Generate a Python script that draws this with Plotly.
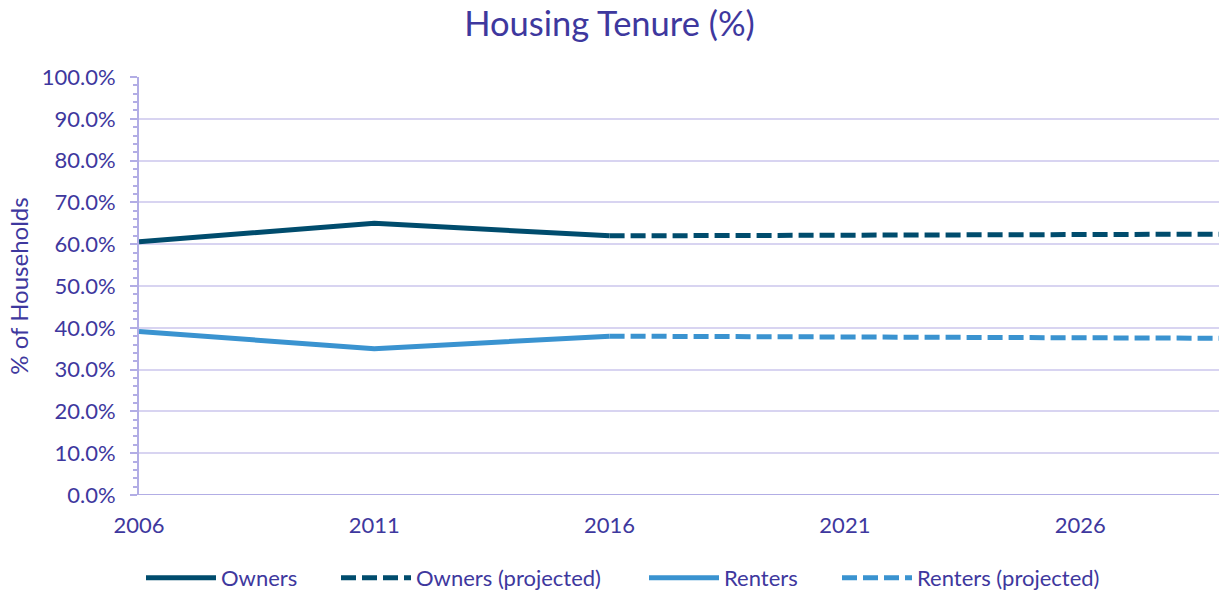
import plotly.graph_objects as go

years_actual = [2006, 2011, 2016]
owners_actual = [60.6, 65.0, 62.0]
renters_actual = [39.1, 35.0, 38.0]

years_proj = [2016, 2021, 2026, 2029]
owners_proj = [62.0, 62.1, 62.3, 62.4]
renters_proj = [38.0, 37.9, 37.7, 37.5]

x_ticks = [2006, 2011, 2016, 2021, 2026]

series_names = ["Owners", "Owners (projected)", "Renters", "Renters (projected)"]
legend_left_px = [147, 342, 650, 843]

OWN = "#004c6d"
REN = "#3a93d0"
TXT = "#3e389e"
AX = "#b2ade5"
FONT = "Lato"
FS = 22

fig = go.Figure()
fig.add_trace(go.Scatter(x=years_actual, y=owners_actual, name=series_names[0], mode="lines",
                         line=dict(color=OWN, width=5), legend="legend"))
fig.add_trace(go.Scatter(x=years_proj, y=owners_proj, name=series_names[1], mode="lines",
                         line=dict(color=OWN, width=5, dash="15px,6px"), legend="legend2"))
fig.add_trace(go.Scatter(x=years_actual, y=renters_actual, name=series_names[2], mode="lines",
                         line=dict(color=REN, width=5), legend="legend3"))
fig.add_trace(go.Scatter(x=years_proj, y=renters_proj, name=series_names[3], mode="lines",
                         line=dict(color=REN, width=5, dash="15px,6px"), legend="legend4"))

legend_y = (592 - 578) / 592


def leg(px):
    return dict(orientation="h", xref="container", yref="container",
                x=(px - 6) / 1219, xanchor="left", y=legend_y, yanchor="middle",
                font=dict(family=FONT, size=FS, color=TXT), itemwidth=70,
                bgcolor="rgba(0,0,0,0)")


fig.update_layout(
    width=1219, height=592,
    margin=dict(l=139, r=0, t=77, b=97, autoexpand=False),
    paper_bgcolor="white", plot_bgcolor="white",
    font=dict(family=FONT, color=TXT, size=FS),
    title=dict(text="Housing Tenure (%)", x=0.5, xref="container", xanchor="center",
               y=1 - 24 / 592, yref="container", yanchor="middle",
               font=dict(family=FONT, size=34.5, color=TXT)),
    showlegend=True,
    legend=leg(legend_left_px[0]),
    legend2=leg(legend_left_px[1]),
    legend3=leg(legend_left_px[2]),
    legend4=leg(legend_left_px[3]),
    xaxis=dict(range=[2006, 2028.95], tickvals=x_ticks, ticktext=[str(v) for v in x_ticks],
               showgrid=False, zeroline=False, showline=False, ticks="", automargin=False,
               ticklabelstandoff=15, tickfont=dict(family=FONT, size=FS, color=TXT)),
    yaxis=dict(range=[0, 100], dtick=10, tickformat=".1f", ticksuffix="%", automargin=False,
               showgrid=True, gridcolor="#d8d4f1", gridwidth=1.5,
               zeroline=False, showline=True, linecolor=AX, linewidth=2,
               ticks="outside", ticklen=7, tickcolor=AX, tickwidth=2,
               ticklabelstandoff=10,
               minor=dict(dtick=2, ticks="outside", ticklen=4, tickcolor=AX,
                          tickwidth=2, showgrid=False),
               title=dict(text="% of Households", font=dict(family=FONT, size=24, color=TXT),
                          standoff=6),
               tickfont=dict(family=FONT, size=FS, color=TXT)),
)

fig.add_shape(type="line", xref="paper", yref="y", x0=0, x1=1, y0=0, y1=0,
              line=dict(color=AX, width=2), layer="below")

fig.write_html("out.html", config={"displayModeBar": False},
               post_script="document.body.style.margin='0';")
